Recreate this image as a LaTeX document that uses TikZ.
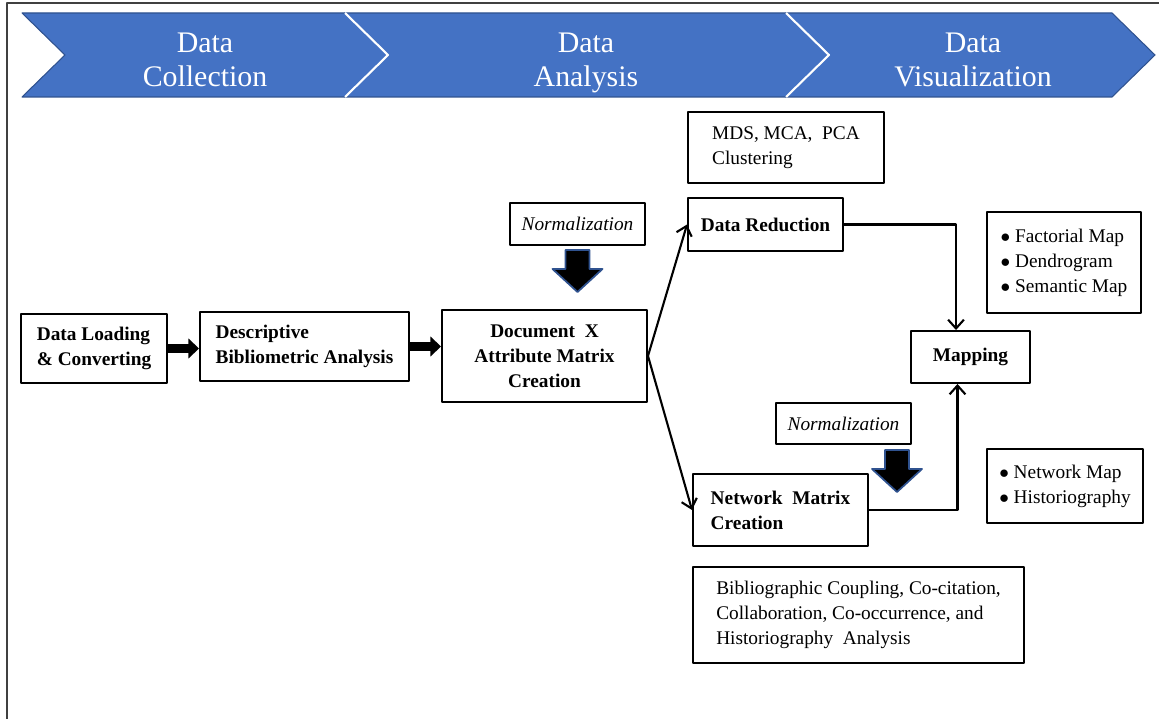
\documentclass[tikz,border=0pt]{standalone}
\usepackage{fontspec}
\setmainfont{Liberation Serif}
\usetikzlibrary{arrows.meta}
\definecolor{bannerblue}{HTML}{4472C4}
\definecolor{edgeblue}{HTML}{2F528F}
\begin{document}
\begin{tikzpicture}[x=0.02cm, y=-0.02cm, line join=round, font=\fontsize{11}{14.2}\selectfont,
    box/.style={draw, line width=1.1pt, inner sep=0pt, align=left},
    banner/.style={text=white, align=center, font=\fontsize{17}{19.3}\selectfont},
    thin arrow/.style={line width=1.2pt, -{Straight Barb[length=5pt,width=9pt]}},
    fat arrow/.style={line width=4.8pt, -{Triangle[length=6pt,width=11pt]}},
    blockdown/.style={fill=black, draw=edgeblue, line width=1pt}]
    \def\px{0.02cm}
    \def\yt{13} \def\yb{97} \def\ym{55}
    \useasboundingbox (0,0) rectangle (1159,719);
    \draw[line width=1pt, black!75] (7,719) -- (7,3) -- (1159,3);
    % banner
    \filldraw[fill=bannerblue, draw=edgeblue, line width=0.6pt] (22,\yt) -- (345,\yt) -- (388,\ym) -- (345,\yb) -- (22,\yb) -- (65,\ym) -- cycle;
    \filldraw[fill=bannerblue, draw=edgeblue, line width=0.6pt] (345,\yt) -- (786,\yt) -- (829,\ym) -- (786,\yb) -- (345,\yb) -- (388,\ym) -- cycle;
    \filldraw[fill=bannerblue, draw=edgeblue, line width=0.6pt] (786,\yt) -- (1112,\yt) -- (1155,\ym) -- (1112,\yb) -- (786,\yb) -- (829,\ym) -- cycle;
    \draw[white, line width=1.2pt] (345,\yt) -- (388,\ym) -- (345,\yb) (786,\yt) -- (829,\ym) -- (786,\yb);
    \node[banner] (coll) at (205,65) {Data\\Collection\strut};
    \node[banner] (anal) at (586,65) {Data\\Analysis\strut};
    \node[banner] (visu) at (973,65) {Data\\Visualization\strut};
    % boxes
    \node[box, minimum width=146*\px, minimum height=69*\px, font=\fontsize{11}{14.2}\selectfont\bfseries] (load) at (94,348.5) {Data Loading\\\& Converting};
    \node[box, minimum width=209*\px, minimum height=69*\px, font=\fontsize{11}{14.2}\selectfont\bfseries] (desc) at (304.5,346.5) {Descriptive\\Bibliometric Analysis};
    \node[box, minimum width=205*\px, minimum height=92*\px, align=center, font=\fontsize{11}{14.2}\selectfont\bfseries] (doc) at (544.5,356) {Document\ \ X\\Attribute Matrix\\Creation};
    \node[box, minimum width=135*\px, minimum height=42*\px, align=center, font=\fontsize{11}{14.2}\selectfont\itshape] (norma) at (577.5,224) {Normalization};
    \node[box, minimum width=196*\px, minimum height=71*\px] (mds) at (786,147.5) {MDS, MCA,\ \ PCA\\Clustering};
    \node[box, minimum width=155*\px, minimum height=53*\px, font=\fontsize{11}{14.2}\selectfont\bfseries] (red) at (765.5,224.5) {Data Reduction};
    \node[box, minimum width=154*\px, minimum height=101*\px] (fact) at (1064,262.5) {$\bullet$ Factorial Map\\$\bullet$ Dendrogram\\$\bullet$ Semantic Map};
    \node[box, minimum width=119*\px, minimum height=52*\px, align=center, font=\fontsize{11}{14.2}\selectfont\bfseries] (map) at (970.5,357) {Mapping};
    \node[box, minimum width=135*\px, minimum height=41*\px, align=center, font=\fontsize{11}{14.2}\selectfont\itshape] (normb) at (843.5,423.5) {Normalization};
    \node[box, minimum width=175*\px, minimum height=72*\px, font=\fontsize{11}{14.2}\selectfont\bfseries] (net) at (780.5,510) {Network\ \ Matrix\\Creation};
    \node[box, minimum width=156*\px, minimum height=74*\px] (netmap) at (1065,486) {$\bullet$ Network Map\\$\bullet$ Historiography};
    \node[box, minimum width=331*\px, minimum height=96*\px] (bib) at (858.5,615) {Bibliographic Coupling, Co-citation,\\Collaboration, Co-occurrence, and\\Historiography\ \ Analysis};
    % normalization arrows
    \foreach \cx/\ty in {577.5/250, 897/450}
        \filldraw[blockdown] (\cx-12,\ty) -- (\cx+12,\ty) -- (\cx+12,\ty+19) -- (\cx+25,\ty+19) -- (\cx,\ty+42) -- (\cx-25,\ty+19) -- (\cx-12,\ty+19) -- cycle;
    % connectors
    \draw[fat arrow] (load.east) -- (load.east -| desc.west);
    \draw[fat arrow] (desc.east) -- (desc.east -| doc.west);
    \draw[thin arrow] (doc.east) -- (red.west);
    \draw[thin arrow] (doc.east) -- (net.west);
    \draw[thin arrow] (red.east) -| ([xshift=-0.29cm]map.north);
    \draw[thin arrow] (net.east) -| ([xshift=-0.26cm]map.south);
\end{tikzpicture}
\end{document}
